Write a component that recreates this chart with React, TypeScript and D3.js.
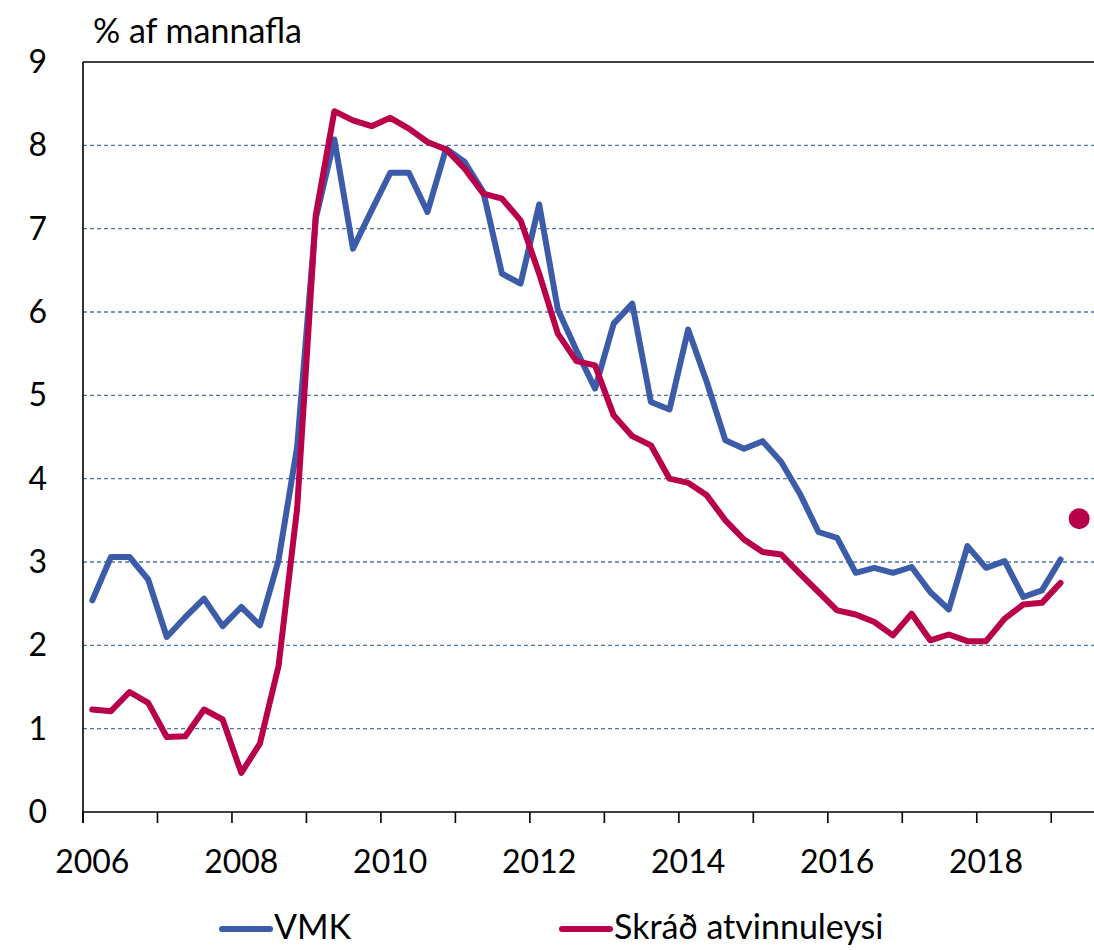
import React, { useEffect, useRef } from 'react'
import * as d3 from 'd3'

// quarterly values, 2006Q1 .. 2019Q1
const startYear = 2006
const vmk = [2.54, 3.06, 3.06, 2.79, 2.10, 2.34, 2.56, 2.23, 2.46, 2.24, 3.02, 4.38, 7.12, 8.07, 6.76, 7.22,
    7.67, 7.67, 7.20, 7.96, 7.80, 7.44, 6.46, 6.34, 7.29, 6.03, 5.54, 5.08, 5.86, 6.10, 4.92, 4.83,
    5.79, 5.16, 4.46, 4.36, 4.45, 4.20, 3.82, 3.36, 3.29, 2.87, 2.93, 2.87, 2.94, 2.64, 2.43, 3.19,
    2.93, 3.01, 2.58, 2.66, 3.03]
const skrad = [1.23, 1.21, 1.44, 1.31, 0.90, 0.91, 1.23, 1.11, 0.47, 0.82, 1.75, 3.64, 7.16, 8.41, 8.30, 8.23,
    8.33, 8.20, 8.04, 7.95, 7.72, 7.42, 7.36, 7.10, 6.46, 5.74, 5.41, 5.36, 4.76, 4.51, 4.40, 4.00,
    3.95, 3.80, 3.50, 3.27, 3.12, 3.09, 2.86, 2.64, 2.42, 2.37, 2.28, 2.12, 2.38, 2.06, 2.13, 2.05,
    2.05, 2.32, 2.49, 2.51, 2.75]
// single point for 2019Q2
const skradPoint = [{ q: 53, value: 3.52 }]

const yTicks = [0, 1, 2, 3, 4, 5, 6, 7, 8, 9]
const yearTicks = [2006, 2007, 2008, 2009, 2010, 2011, 2012, 2013, 2014, 2015, 2016, 2017, 2018, 2019]
const yearLabels = [2006, 2008, 2010, 2012, 2014, 2016, 2018]

const blue = '#3c5ca9'
const red = '#b8004b'
const font = 'Lato, "Open Sans", sans-serif'

const App = () => {
    const Chart = useRef<SVGSVGElement>(null)

    const width = 1094
    const height = 950
    const left = 83
    const top = 62
    const bottom = 812

    useEffect(() => {
        const svg = d3.select(Chart.current)
        svg.selectAll('*').remove()

        // quarter index -> pixel, 54 quarters across the axis
        const x = d3.scaleLinear().domain([0, 54]).range([left, left + 54 * 18.62])
        const y = d3.scaleLinear().domain([0, 9]).range([bottom, top])

        //gridlines
        svg.append('g')
            .selectAll('line')
            .data(yTicks.filter(d => d > 0 && d < 9))
            .join('line')
            .attr('x1', left)
            .attr('x2', width)
            .attr('y1', d => y(d))
            .attr('y2', d => y(d))
            .attr('stroke', '#4f73ad')
            .attr('stroke-width', 1.3)
            .attr('stroke-dasharray', '4,3')

        //frame: top line, left axis, bottom axis
        svg.append('line')
            .attr('x1', left).attr('x2', width)
            .attr('y1', y(9)).attr('y2', y(9))
            .attr('stroke', '#000').attr('stroke-width', 1.6)
        svg.append('line')
            .attr('x1', left).attr('x2', left)
            .attr('y1', y(9)).attr('y2', y(0) + 11)
            .attr('stroke', '#000').attr('stroke-width', 1.6)
        svg.append('line')
            .attr('x1', left).attr('x2', width)
            .attr('y1', y(0)).attr('y2', y(0))
            .attr('stroke', '#000').attr('stroke-width', 1.6)

        //year ticks
        svg.append('g')
            .selectAll('line')
            .data(yearTicks)
            .join('line')
            .attr('x1', d => x((d - startYear) * 4))
            .attr('x2', d => x((d - startYear) * 4))
            .attr('y1', y(0))
            .attr('y2', y(0) + 11)
            .attr('stroke', '#000')
            .attr('stroke-width', 1.6)

        //year labels, centred on the first quarter
        svg.append('g')
            .selectAll('text')
            .data(yearLabels)
            .join('text')
            .text(d => d)
            .attr('x', d => x((d - startYear) * 4 + 0.5))
            .attr('y', 873)
            .attr('text-anchor', 'middle')
            .style('font-family', font)
            .style('font-size', '32px')
            .attr('fill', '#000')

        //y labels
        svg.append('g')
            .selectAll('text')
            .data(yTicks)
            .join('text')
            .text(d => d)
            .attr('x', 47)
            .attr('y', d => y(d) + 11)
            .attr('text-anchor', 'end')
            .style('font-family', font)
            .style('font-size', '32px')
            .attr('fill', '#000')

        svg.append('text')
            .text('% af mannafla')
            .attr('x', 93)
            .attr('y', 43)
            .style('font-family', font)
            .style('font-size', '34px')
            .attr('fill', '#000')

        const line = d3.line<number>()
            .x((d, i) => x(i + 0.5))
            .y(d => y(d))

        svg.append('path')
            .datum(vmk)
            .attr('d', line)
            .attr('fill', 'none')
            .attr('stroke', blue)
            .attr('stroke-width', 6)
            .attr('stroke-linejoin', 'round')
            .attr('stroke-linecap', 'round')

        svg.append('path')
            .datum(skrad)
            .attr('d', line)
            .attr('fill', 'none')
            .attr('stroke', red)
            .attr('stroke-width', 6)
            .attr('stroke-linejoin', 'round')
            .attr('stroke-linecap', 'round')

        svg.append('g')
            .selectAll('circle')
            .data(skradPoint)
            .join('circle')
            .attr('cx', d => x(d.q + 0.5))
            .attr('cy', d => y(d.value))
            .attr('r', 10.5)
            .attr('fill', red)

        //legend
        const legend = [
            { name: 'VMK', color: blue, x: 222 },
            { name: 'Skráð atvinnuleysi', color: red, x: 562 },
        ]
        const lg = svg.append('g')
            .selectAll('g')
            .data(legend)
            .join('g')
        lg.append('line')
            .attr('x1', d => d.x)
            .attr('x2', d => d.x + 48)
            .attr('y1', 929)
            .attr('y2', 929)
            .attr('stroke', d => d.color)
            .attr('stroke-width', 6)
            .attr('stroke-linecap', 'round')
        lg.append('text')
            .text(d => d.name)
            .attr('x', d => d.x + 52)
            .attr('y', 939)
            .style('font-family', font)
            .style('font-size', '34px')
            .attr('fill', '#000')
    })

    return (
        <div>
            <svg ref={Chart} width={width} height={height}
                style={{ position: 'absolute', left: 0, top: 0, background: '#fff' }}></svg>
        </div>
    )
}
export default App
